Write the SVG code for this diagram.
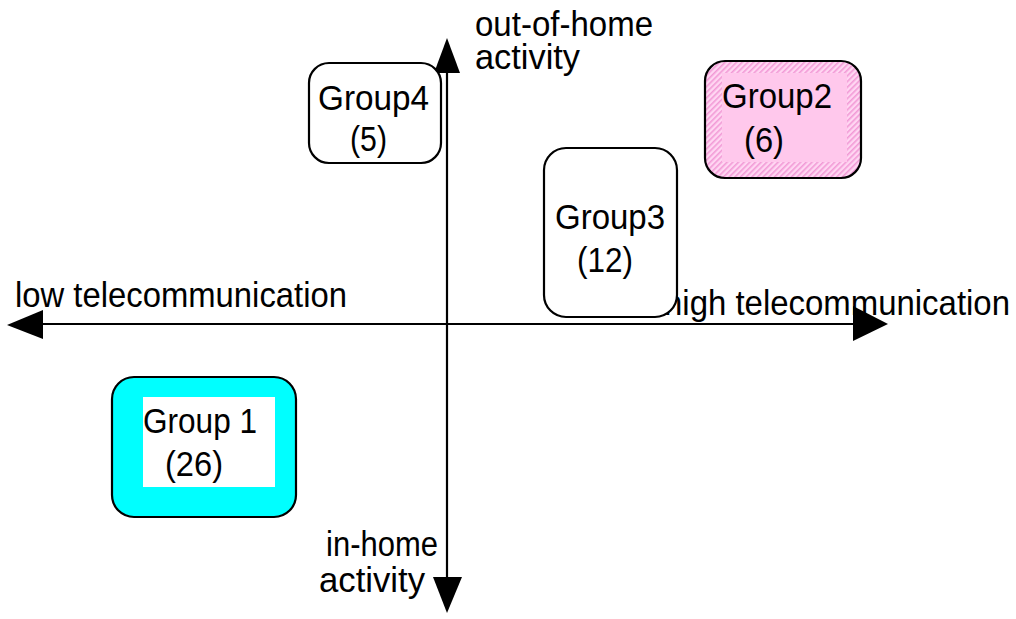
<svg xmlns="http://www.w3.org/2000/svg" width="1016" height="619" viewBox="0 0 1016 619">
<style>
.lbl{font-family:"Liberation Sans",Arial,sans-serif;font-size:35px;fill:#000}
.box{stroke:#000;stroke-width:2.2}
.axis{stroke:#000;stroke-width:2.2;fill:none}
.head{fill:#000}
</style>
<defs>
<pattern id="hatch" width="4" height="4" patternUnits="userSpaceOnUse" patternTransform="rotate(45)">
<rect width="4" height="4" fill="#ffd6f2"/>
<rect width="1.6" height="4" fill="#f29ad6"/>
</pattern>
</defs>
<rect width="1016" height="619" fill="#fff"/>
<g id="axes">
<line class="axis" x1="40" y1="324" x2="856" y2="324"/>
<line class="axis" x1="447" y1="70" x2="447" y2="580"/>
<polygon class="head" points="7,325 43,310 43,339"/>
<polygon class="head" points="888,324 853,306 853,341"/>
<polygon class="head" points="447,38 434,73 460,73"/>
<polygon class="head" points="447,613 433,577 462,577"/>
</g>
<g id="axis-labels">
<text class="lbl" x="15" y="307" textLength="332" lengthAdjust="spacingAndGlyphs">low  telecommunication</text>
<text class="lbl" x="664" y="315" textLength="346" lengthAdjust="spacingAndGlyphs">high  telecommunication</text>
<text class="lbl" x="475" y="36" textLength="178" lengthAdjust="spacingAndGlyphs">out-of-home</text>
<text class="lbl" x="475" y="69" textLength="105" lengthAdjust="spacingAndGlyphs">activity</text>
<text class="lbl" x="326" y="556" textLength="112" lengthAdjust="spacingAndGlyphs">in-home</text>
<text class="lbl" x="319" y="592" textLength="106" lengthAdjust="spacingAndGlyphs">activity</text>
</g>
<g id="group4">
<rect class="box" x="309" y="63" width="132" height="100" rx="20" fill="#fff"/>
<text class="lbl" x="318" y="110" textLength="111" lengthAdjust="spacingAndGlyphs">Group4</text>
<text class="lbl" x="350" y="151" textLength="37" lengthAdjust="spacingAndGlyphs">(5)</text>
</g>
<g id="group2">
<rect class="box" x="705" y="61" width="156" height="117" rx="20" fill="url(#hatch)"/>
<rect x="722" y="73" width="125" height="89" fill="#ffc8ec"/>
<text class="lbl" x="722" y="108" textLength="110" lengthAdjust="spacingAndGlyphs">Group2</text>
<text class="lbl" x="744" y="152" textLength="40" lengthAdjust="spacingAndGlyphs">(6)</text>
</g>
<g id="group3">
<rect class="box" x="544" y="148" width="133" height="169" rx="22" fill="#fff"/>
<text class="lbl" x="555" y="229" textLength="110" lengthAdjust="spacingAndGlyphs">Group3</text>
<text class="lbl" x="577" y="272" textLength="56" lengthAdjust="spacingAndGlyphs">(12)</text>
</g>
<g id="group1">
<rect class="box" x="112" y="377" width="184" height="140" rx="22" fill="#00ffff"/>
<rect x="143" y="397" width="132" height="90" fill="#fff"/>
<text class="lbl" x="143" y="433" textLength="114" lengthAdjust="spacingAndGlyphs">Group 1</text>
<text class="lbl" x="165" y="476" textLength="58" lengthAdjust="spacingAndGlyphs">(26)</text>
</g>
</svg>
